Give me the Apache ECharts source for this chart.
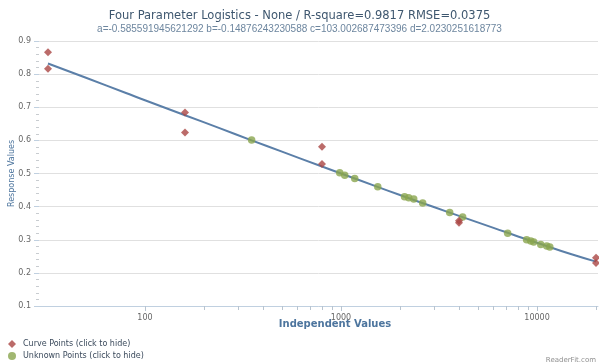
<!DOCTYPE html>
<html>
<head>
<meta charset="utf-8">
<script src="https://cdn.jsdelivr.net/npm/echarts@6/dist/echarts.min.js"></script>
<style>
  html, body { margin: 0; padding: 0; background: #ffffff; }
  #chart { width: 599px; height: 362px; }
</style>
</head>
<body>
<div id="chart"></div>
<script>
// Standard (curve) points: dilution series, duplicate readings
const curveX = [32, 32, 160, 160, 800, 800, 4000, 4000, 20000, 20000];
const curveY = [0.866, 0.816, 0.684, 0.624, 0.581, 0.529, 0.357, 0.351, 0.246, 0.230];

// Unknown samples placed on the fitted curve
const unknownX = [350, 985, 1045, 1175, 1540, 2110, 2215, 2350, 2610, 3585, 4175, 7085, 8850, 9290, 9620, 10450, 11210, 11620];
const unknownY = [0.601, 0.502, 0.495, 0.485, 0.460, 0.430, 0.427, 0.423, 0.411, 0.382, 0.369, 0.320, 0.300, 0.296, 0.293, 0.286, 0.281, 0.278];

// Fitted 4PL curve
const fitX = [32, 50, 80, 100, 160, 240, 350, 500, 800, 1000, 1500, 2000, 3000, 4000, 6000, 8000, 10000, 15000, 20000];
const fitY = [0.832, 0.789, 0.743, 0.721, 0.676, 0.637, 0.600, 0.566, 0.521, 0.500, 0.462, 0.435, 0.398, 0.372, 0.336, 0.310, 0.291, 0.256, 0.234];

// Axis ticks
const xMajorTicks = [100, 1000, 10000];
const xMinorTicks = [200, 300, 400, 500, 600, 700, 800, 900, 2000, 3000, 4000, 5000, 6000, 7000, 8000, 9000, 20000];
const yTicks = [0.1, 0.2, 0.3, 0.4, 0.5, 0.6, 0.7, 0.8, 0.9];

const titleText = 'Four Parameter Logistics - None / R-square=0.9817 RMSE=0.0375';
const subText = 'a=-0.585591945621292 b=-0.14876243230588 c=103.002687473396 d=2.0230251618773';

const zip = (xs, ys) => xs.map((x, i) => [x, ys[i]]);

const chart = echarts.init(document.getElementById('chart'), null, { renderer: 'canvas' });

const xMin = 28.8, xMax = 20470;
const font = 'DejaVu Sans';

chart.setOption({
  animation: false,
  backgroundColor: '#ffffff',
  textStyle: { fontFamily: font },
  title: [
    { text: titleText, left: 'center', top: 5,
      textStyle: { fontSize: 11.5, fontWeight: 'normal', color: '#3E576F', fontFamily: font } },
    { text: subText, left: 'center', top: 19,
      textStyle: { fontSize: 10, fontWeight: 'normal', color: '#6D869F', fontFamily: 'Liberation Sans' } }
  ],
  grid: { left: 39, right: 1, top: 41, bottom: 56, containLabel: false, outerBoundsMode: 'none' },
  legend: {
    orient: 'vertical', left: 8, top: 340, padding: 0,
    itemWidth: 8, itemHeight: 8, itemGap: 4,
    data: [
      { name: 'Curve Points (click to hide)', icon: 'diamond' },
      { name: 'Unknown Points (click to hide)', icon: 'circle' }
    ],
    textStyle: { fontSize: 8, color: '#3b4a5c', fontFamily: font, padding: [0, 0, 0, 2] }
  },
  xAxis: [
    {
      type: 'log', logBase: 10, min: xMin, max: xMax,
      name: 'Independent Values', nameLocation: 'middle', nameGap: 13, nameMoveOverlap: false,
      nameTextStyle: { fontSize: 10, fontWeight: 'bold', color: '#4d759e', padding: [0, 0, 0, 33] },
      axisLine: { show: true, lineStyle: { color: '#C0D0E0', width: 1 } },
      axisTick: { show: true, customValues: xMajorTicks, length: 5, lineStyle: { color: '#B8C4D0' } },
      axisLabel: { customValues: xMajorTicks, fontSize: 8, color: '#666666', margin: 8,
        formatter: v => String(Math.round(v)) },
      splitLine: { show: false }
    },
    {
      type: 'log', logBase: 10, min: xMin, max: xMax, position: 'bottom',
      axisLine: { show: false },
      axisTick: { show: true, customValues: xMinorTicks, length: 4, lineStyle: { color: '#B8C4D0' } },
      axisLabel: { show: false },
      splitLine: { show: false }
    }
  ],
  yAxis: {
    type: 'value', min: 0.1, max: 0.9, interval: 0.1,
    name: 'Response Values', nameLocation: 'middle', nameGap: 23, nameMoveOverlap: false,
    nameTextStyle: { fontSize: 8, color: '#4d759e' },
    axisLine: { show: false },
    axisTick: { show: true, length: 5, lineStyle: { color: '#C0D0E0' } },
    minorTick: { show: true, splitNumber: 5, length: 3, lineStyle: { color: '#C8CCD0' } },
    axisLabel: { fontSize: 8, color: '#666666', margin: 8,
      formatter: v => yTicks.includes(Math.round(v * 10) / 10) ? (Math.round(v * 10) / 10).toString() : '' },
    splitLine: { show: true, lineStyle: { color: '#E0E0E0', width: 1 } }
  },
  series: [
    {
      name: 'Fit', type: 'line', data: zip(fitX, fitY), smooth: true,
      symbol: 'none', lineStyle: { color: '#5B7FA8', width: 2 }, z: 2, silent: true
    },
    {
      name: 'Unknown Points (click to hide)', type: 'scatter', data: zip(unknownX, unknownY),
      symbol: 'circle', symbolSize: 7.5, itemStyle: { color: '#89A54E' }, z: 3
    },
    {
      name: 'Curve Points (click to hide)', type: 'scatter', data: zip(curveX, curveY),
      symbol: 'diamond', symbolSize: 8, itemStyle: { color: '#AA4643' }, z: 4
    }
  ],
  graphic: [
    { type: 'text', right: 3, bottom: -2,
      style: { text: 'ReaderFit.com', fontSize: 7, fill: '#909090', fontFamily: font } }
  ]
});
</script>
</body>
</html>
